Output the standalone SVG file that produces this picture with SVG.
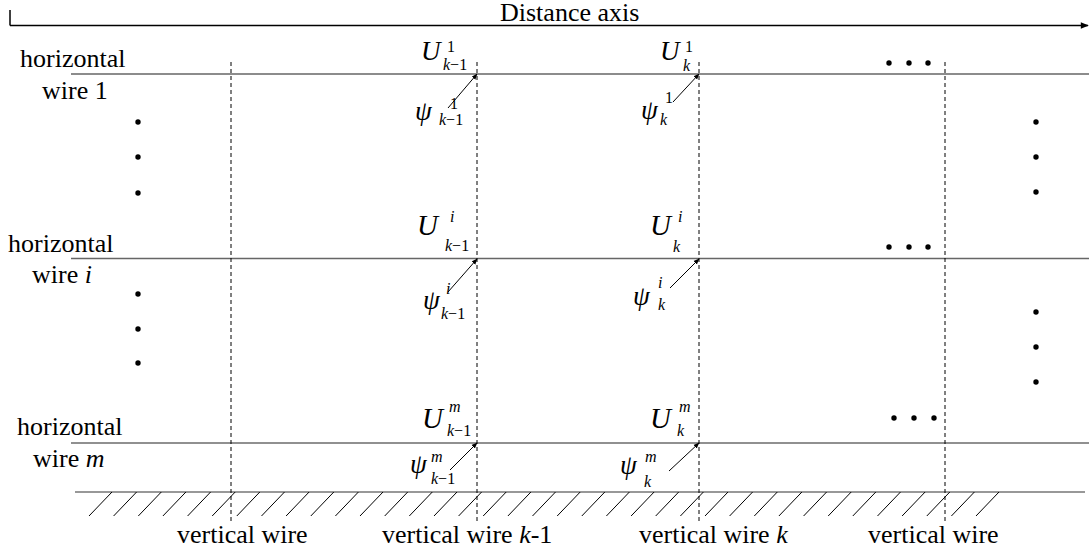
<svg xmlns="http://www.w3.org/2000/svg" width="1089" height="552" viewBox="0 0 1089 552">
<defs>
<marker id="ah" viewBox="0 0 10 10" refX="9" refY="5" markerWidth="6" markerHeight="6" orient="auto" markerUnits="userSpaceOnUse">
<path d="M0,1 L10,5 L0,9 z" fill="#000"/>
</marker>
<marker id="axh" viewBox="0 0 10 10" refX="9" refY="5" markerWidth="9" markerHeight="8" orient="auto" markerUnits="userSpaceOnUse">
<path d="M0,1 L10,5 L0,9 z" fill="#000"/>
</marker>
</defs>
<style>
text{font-family:"Liberation Serif","Times New Roman",serif;fill:#000}
.lbl{font-size:26px}
.big{font-size:27px;font-style:italic}
.big2{font-size:29px;font-style:italic}
.psi{font-size:27px;font-style:italic}
.s{font-size:16px}
.i{font-style:italic}
.wire{stroke:#666;stroke-width:1.5;fill:none}
.wirem{stroke:#222;stroke-width:1.2;fill:none}
.vw{stroke:#000;stroke-width:1;stroke-dasharray:4,3;fill:none}
.hatch{stroke:#000;stroke-width:1;fill:none}
.arr{stroke:#000;stroke-width:1;fill:none;marker-end:url(#ah)}
.dot{fill:#000}
</style>
<rect width="1089" height="552" fill="#fff"/>

<g id="axis">
<line x1="10" y1="10" x2="10" y2="25.5" stroke="#000" stroke-width="1.5"/>
<line x1="10" y1="25.5" x2="1088" y2="25.5" stroke="#000" stroke-width="1.5" marker-end="url(#axh)"/>
<text class="lbl" x="500" y="21">Distance axis</text>
</g>

<g id="horizontal-wires">
<line class="wire" x1="71" y1="74" x2="1089" y2="74"/>
<line class="wire" x1="71" y1="258.5" x2="1089" y2="258.5"/>
<line class="wirem" x1="71" y1="443" x2="1089" y2="443"/>
</g>

<g id="ground">
<line x1="75" y1="492" x2="1085" y2="492" stroke="#333" stroke-width="1.2"/>
<path class="hatch" d="M112,492l-23,24M136.6,492l-23,24M161.3,492l-23,24M185.9,492l-23,24M210.6,492l-23,24M235.2,492l-23,24M259.8,492l-23,24M284.5,492l-23,24M309.1,492l-23,24M333.8,492l-23,24M358.4,492l-23,24M383,492l-23,24M407.7,492l-23,24M432.3,492l-23,24M457,492l-23,24M481.6,492l-23,24M506.2,492l-23,24M530.9,492l-23,24M555.5,492l-23,24M580.2,492l-23,24M604.8,492l-23,24M629.4,492l-23,24M654.1,492l-23,24M678.7,492l-23,24M703.4,492l-23,24M728,492l-23,24M752.6,492l-23,24M777.3,492l-23,24M801.9,492l-23,24M826.6,492l-23,24M851.2,492l-23,24M875.8,492l-23,24M900.5,492l-23,24M925.1,492l-23,24M949.8,492l-23,24M974.4,492l-23,24M999,492l-23,24"/>
</g>

<g id="vertical-wires">
<line class="vw" x1="231" y1="62" x2="231" y2="523"/>
<line class="vw" x1="477" y1="62" x2="477" y2="523"/>
<line class="vw" x1="699" y1="62" x2="699" y2="523"/>
<line class="vw" x1="945" y1="62" x2="945" y2="523"/>
</g>

<g id="wire-labels">
<text class="lbl" x="20" y="67">horizontal</text>
<text class="lbl" x="42" y="99">wire 1</text>
<text class="lbl" x="8" y="252">horizontal</text>
<text class="lbl" x="32" y="283">wire <tspan class="i">i</tspan></text>
<text class="lbl" x="17" y="435">horizontal</text>
<text class="lbl" x="33" y="467">wire <tspan class="i">m</tspan></text>
<text class="lbl" x="177" y="543">vertical wire</text>
<text class="lbl" x="382" y="543">vertical wire <tspan class="i">k</tspan>-1</text>
<text class="lbl" x="639" y="543">vertical wire <tspan class="i">k</tspan></text>
<text class="lbl" x="868" y="543">vertical wire</text>
</g>

<g id="dots">
<circle class="dot" cx="138" cy="122" r="2.7"/><circle class="dot" cx="138" cy="157" r="2.7"/><circle class="dot" cx="138" cy="193" r="2.7"/>
<circle class="dot" cx="138" cy="294" r="2.7"/><circle class="dot" cx="138" cy="329" r="2.7"/><circle class="dot" cx="138" cy="363" r="2.7"/>
<circle class="dot" cx="1036" cy="122" r="2.7"/><circle class="dot" cx="1036" cy="157" r="2.7"/><circle class="dot" cx="1036" cy="192" r="2.7"/>
<circle class="dot" cx="1036" cy="312" r="2.7"/><circle class="dot" cx="1036" cy="347" r="2.7"/><circle class="dot" cx="1036" cy="382" r="2.7"/>
<circle class="dot" cx="889" cy="63" r="2.7"/><circle class="dot" cx="909" cy="63" r="2.7"/><circle class="dot" cx="928" cy="63" r="2.7"/>
<circle class="dot" cx="889" cy="247" r="2.7"/><circle class="dot" cx="909" cy="247" r="2.7"/><circle class="dot" cx="928" cy="247" r="2.7"/>
<circle class="dot" cx="894" cy="418" r="2.7"/><circle class="dot" cx="914" cy="418" r="2.7"/><circle class="dot" cx="934" cy="418" r="2.7"/>
</g>

<g id="node-U1">
<text class="big" x="421" y="60">U</text><text class="s" x="447" y="52">1</text><text class="s" x="443" y="70"><tspan class="i">k</tspan>−1</text>
<text class="big" x="660" y="60">U</text><text class="s" x="685" y="52">1</text><text class="s i" x="683" y="71">k</text>
</g>
<g id="node-Ui">
<text class="big2" x="417" y="235">U</text><text class="s i" x="450" y="222">i</text><text class="s" x="445" y="251"><tspan class="i">k</tspan>−1</text>
<text class="big2" x="650" y="235">U</text><text class="s i" x="678" y="222">i</text><text class="s i" x="673" y="252">k</text>
</g>
<g id="node-Um">
<text class="big2" x="422" y="428">U</text><text class="s i" x="449" y="412">m</text><text class="s" x="447" y="436"><tspan class="i">k</tspan>−1</text>
<text class="big2" x="650" y="428">U</text><text class="s i" x="679" y="412">m</text><text class="s i" x="677" y="436">k</text>
</g>
<g id="node-psi1">
<text class="psi" x="415" y="120">ψ</text><text class="s" x="450" y="109">1</text><text class="s" x="439" y="125"><tspan class="i">k</tspan>−1</text>
<text class="psi" x="641" y="119">ψ</text><text class="s" x="665" y="103">1</text><text class="s i" x="660" y="125">k</text>
</g>
<g id="node-psii">
<text class="psi" x="423" y="309">ψ</text><text class="s i" x="446" y="294">i</text><text class="s" x="441" y="319"><tspan class="i">k</tspan>−1</text>
<text class="psi" x="633" y="305">ψ</text><text class="s i" x="658" y="288">i</text><text class="s i" x="658" y="310">k</text>
</g>
<g id="node-psim">
<text class="psi" x="410" y="473">ψ</text><text class="s i" x="431" y="462">m</text><text class="s" x="431" y="484"><tspan class="i">k</tspan>−1</text>
<text class="psi" x="620" y="474">ψ</text><text class="s i" x="645" y="462">m</text><text class="s i" x="644" y="487">k</text>
</g>

<g id="connectors">
<line class="arr" x1="448" y1="108" x2="477" y2="74"/>
<line class="arr" x1="673" y1="102" x2="699" y2="74"/>
<line class="arr" x1="448" y1="292" x2="477" y2="259"/>
<line class="arr" x1="670" y1="288" x2="699" y2="259"/>
<line class="arr" x1="450" y1="470" x2="477" y2="443"/>
<line class="arr" x1="669" y1="471" x2="699" y2="443"/>
</g>
</svg>
